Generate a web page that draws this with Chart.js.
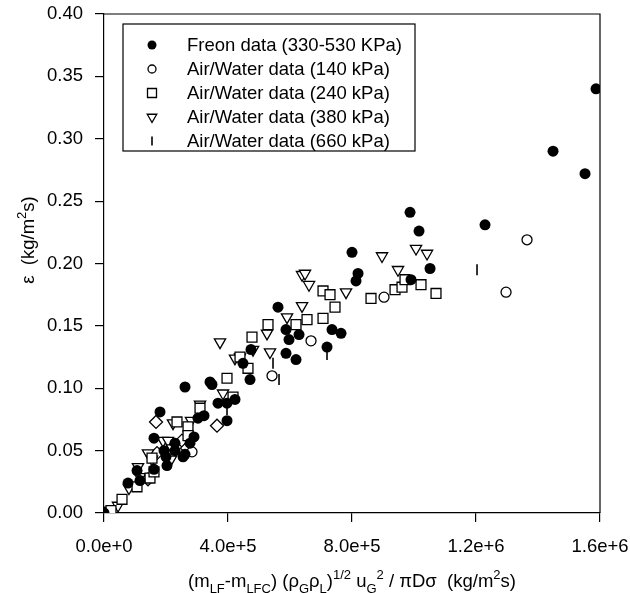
<!DOCTYPE html>
<html><head><meta charset="utf-8">
<script src="https://cdn.jsdelivr.net/npm/chart.js@4"></script>
<style>html,body{margin:0;padding:0;background:#fff;}#wrap{width:630px;height:593px;}</style>
</head><body><div id="wrap"><canvas id="c" width="630" height="593"></canvas></div>
<script>
// ---- data ----
const xTickLabels = ["0.0e+0", "4.0e+5", "8.0e+5", "1.2e+6", "1.6e+6"];
const yTickLabels = ["0.00", "0.05", "0.10", "0.15", "0.20", "0.25", "0.30", "0.35", "0.40"];
const seriesNames = ["Freon data (330-530 KPa)", "Air/Water data (140 kPa)", "Air/Water data (240 kPa)", "Air/Water data (380 kPa)", "Air/Water data (660 kPa)"];

const freon = [[0,0],[77400,0.024],[106500,0.034],[116100,0.026],[161300,0.060],[180700,0.081],[161300,0.035],[193600,0.050],[200000,0.045],[203200,0.038],[229000,0.056],[229000,0.050],[261300,0.101],[261300,0.047],[277400,0.056],[290300,0.061],[303200,0.076],[322600,0.078],[342000,0.105],[348400,0.103],[367800,0.088],[396800,0.088],[422600,0.091],[396800,0.074],[471000,0.107],[448400,0.120],[474200,0.131],[561300,0.165],[587100,0.147],[629100,0.143],[596800,0.139],[587100,0.128],[619400,0.123],[719400,0.133],[735500,0.147],[764600,0.144],[800000,0.209],[819400,0.192],[813000,0.186],[987200,0.241],[1016200,0.226],[1051700,0.196],[990400,0.187],[1229100,0.231],[1448500,0.290],[1551700,0.272],[1587200,0.340],[254900,0.045]];
const air140 = [[283900,0.049],[542000,0.110],[667800,0.138],[903300,0.173],[1296900,0.177],[1364600,0.219]];
const air240 = [[22600,0.002],[58100,0.011],[106500,0.021],[148400,0.028],[161300,0.033],[154800,0.044],[235500,0.073],[271000,0.069],[271000,0.062],[309700,0.084],[416200,0.093],[396800,0.108],[438700,0.125],[464500,0.116],[477400,0.141],[529100,0.151],[619400,0.151],[654900,0.155],[706500,0.178],[729100,0.175],[745200,0.165],[706500,0.156],[861300,0.172],[938800,0.179],[961300,0.181],[971000,0.187],[1022600,0.183],[1071000,0.176]];
const air380 = [[12900,0.002],[45200,0.006],[80600,0.020],[109700,0.037],[116100,0.029],[141900,0.048],[154800,0.043],[190300,0.058],[206500,0.058],[219400,0.052],[216100,0.043],[222600,0.072],[280700,0.074],[309700,0.087],[383900,0.096],[374200,0.137],[422600,0.124],[438700,0.125],[480700,0.131],[535500,0.129],[525800,0.144],[590400,0.157],[638800,0.166],[638800,0.191],[648400,0.192],[661300,0.183],[780700,0.177],[896800,0.206],[948400,0.195],[1006500,0.212],[1042000,0.208]];
const air660 = [[396800,0.083],[545200,0.120],[564600,0.107],[719400,0.127],[1203300,0.195]];
const unlabeled = [[141900,0.027],[167800,0.073],[171000,0.048],[251600,0.058],[267800,0.052],[364500,0.070]];

// ---- styling ----
const FONT = '"Liberation Sans", Arial, sans-serif';
const toPts = arr => arr.map(p => ({x: p[0], y: p[1]}));

const styles = [
  {pointStyle:'circle', radius:5.5, rotation:0, bg:'#000', bw:0},
  {pointStyle:'circle', radius:5, rotation:0, bg:'#fff', bw:1.3},
  {pointStyle:'rect', radius:7, rotation:0, bg:'#fff', bw:1.3},
  {pointStyle:'triangle', radius:6.5, rotation:180, bg:'#fff', bw:1.3},
  {pointStyle:'line', radius:5.5, rotation:90, bg:'#fff', bw:1.6},
  {pointStyle:'rectRot', radius:6.5, rotation:0, bg:'#fff', bw:1.3}
];
const allData = [freon, air140, air240, air380, air660, unlabeled];

const datasets = allData.map((d, i) => ({
  label: i < seriesNames.length ? seriesNames[i] : '',
  data: toPts(d),
  pointStyle: styles[i].pointStyle,
  pointRadius: styles[i].radius,
  pointRotation: styles[i].rotation,
  pointBackgroundColor: styles[i].bg,
  pointBorderColor: '#000',
  pointBorderWidth: styles[i].bw,
  showLine: false
}));

function richText(ctx, segs, x, y, align, base, small) {
  let w = 0;
  segs.forEach(s => { ctx.font = (s[1] === 'n' ? base : small) + 'px ' + FONT; w += ctx.measureText(s[0]).width; });
  let cx = align === 'center' ? x - w / 2 : x;
  ctx.textBaseline = 'alphabetic';
  ctx.textAlign = 'left';
  segs.forEach(s => {
    ctx.font = (s[1] === 'n' ? base : small) + 'px ' + FONT;
    const dy = s[1] === 'sub' ? base * 0.3 : (s[1] === 'sup' ? -base * 0.42 : 0);
    ctx.fillText(s[0], cx, y + dy);
    cx += ctx.measureText(s[0]).width;
  });
}

function drawMarker(ctx, st, x, y, r) {
  ctx.save();
  ctx.lineWidth = st.bw || 1.3;
  ctx.strokeStyle = '#000';
  ctx.fillStyle = st.bg;
  ctx.beginPath();
  if (st.pointStyle === 'circle') {
    ctx.arc(x, y, r, 0, Math.PI * 2);
    ctx.fill(); if (st.bw) ctx.stroke();
  } else if (st.pointStyle === 'rect') {
    ctx.rect(x - r, y - r, 2 * r, 2 * r); ctx.fill(); ctx.stroke();
  } else if (st.pointStyle === 'triangle') {
    ctx.moveTo(x - r * 0.866, y - r * 0.5); ctx.lineTo(x + r * 0.866, y - r * 0.5); ctx.lineTo(x, y + r); ctx.closePath(); ctx.fill(); ctx.stroke();
  } else if (st.pointStyle === 'line') {
    ctx.moveTo(x, y - r); ctx.lineTo(x, y + r); ctx.stroke();
  }
  ctx.restore();
}

const decor = {
  id: 'decor',
  afterDraw(chart) {
    const ctx = chart.ctx, a = chart.chartArea;
    ctx.save();
    ctx.strokeStyle = '#000'; ctx.lineWidth = 1.2;
    ctx.beginPath();
    ctx.moveTo(a.left, a.top); ctx.lineTo(a.right, a.top); ctx.lineTo(a.right, a.bottom);
    ctx.stroke();
    // legend
    const lx = 123, ly = 24, lw = 292, lh = 127;
    ctx.fillStyle = '#fff';
    ctx.fillRect(lx, ly, lw, lh);
    ctx.lineWidth = 1.2;
    ctx.strokeRect(lx, ly, lw, lh);
    const legR = [4.5, 4, 4.5, 5.5, 4.5];
    seriesNames.forEach((name, i) => {
      const ry = 45 + i * 24;
      drawMarker(ctx, styles[i], 152, ry, legR[i]);
      ctx.fillStyle = '#000';
      ctx.font = '18.5px ' + FONT;
      ctx.textAlign = 'left'; ctx.textBaseline = 'middle';
      ctx.fillText(name, 187, ry + 1);
    });
    // x title
    ctx.fillStyle = '#000';
    const xs = [['(m','n'],['LF','sub'],['-m','n'],['LFC','sub'],[') (\u03C1','n'],['G','sub'],['\u03C1','n'],['L','sub'],[')','n'],['1/2','sup'],[' u','n'],['G','sub'],['2','sup'],[' / \u03C0D\u03C3  (kg/m','n'],['2','sup'],['s)','n']];
    richText(ctx, xs, (a.left + a.right) / 2, 587, 'center', 18.5, 13);
    // y title
    ctx.save();
    ctx.translate(34, 240);
    ctx.rotate(-Math.PI / 2);
    const ys = [['\u03B5  (kg/m','n'],['2','sup'],['s)','n']];
    richText(ctx, ys, 0, 0, 'center', 18.5, 13);
    ctx.restore();
    ctx.restore();
  }
};

new Chart(document.getElementById('c'), {
  type: 'scatter',
  data: { datasets },
  options: {
    responsive: false,
    animation: false,
    devicePixelRatio: 1,
    layout: { padding: { left: 0, top: 14, right: 30, bottom: 0 } },
    plugins: { legend: { display: false }, tooltip: { enabled: false }, title: { display: false } },
    scales: {
      x: {
        type: 'linear', min: 0, max: 1600000,
        afterFit(s) { s.height = 80; s.paddingLeft = 0; s.paddingRight = 0; },
        ticks: { stepSize: 400000, callback: (v, i) => xTickLabels[i], color: '#000', font: { family: FONT, size: 18.5 }, padding: 14, maxRotation: 0 },
        grid: { drawOnChartArea: false, drawTicks: true, tickLength: 9, color: '#000', lineWidth: 1.2 },
        border: { display: true, color: '#000', width: 1.2 }
      },
      y: {
        type: 'linear', min: 0, max: 0.4,
        afterFit(s) { s.width = 104; s.paddingTop = 0; s.paddingBottom = 0; },
        ticks: { stepSize: 0.05, callback: (v, i) => yTickLabels[i], color: '#000', font: { family: FONT, size: 18.5 }, padding: 12 },
        grid: { drawOnChartArea: false, drawTicks: true, tickLength: 9, color: '#000', lineWidth: 1.2 },
        border: { display: true, color: '#000', width: 1.2 }
      }
    }
  },
  plugins: [decor]
});
</script>
</body></html>
